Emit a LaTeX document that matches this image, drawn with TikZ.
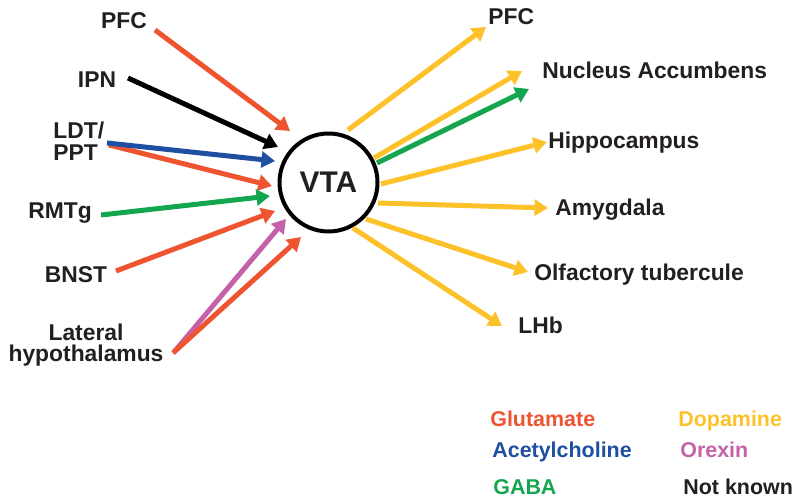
\documentclass[tikz,border=0pt]{standalone}
\usepackage{fontspec}
\setmainfont{Liberation Sans}
\usepackage{xcolor}
\usetikzlibrary{arrows.meta, positioning}

\definecolor{ink}{HTML}{231F20}
\definecolor{glu}{HTML}{EE5430}
\definecolor{dopa}{HTML}{FDC22A}
\definecolor{ach}{HTML}{1E4FA0}
\definecolor{gaba}{HTML}{13A64F}
\definecolor{orx}{HTML}{C461A9}

\begin{document}
\begin{tikzpicture}[x=0.02cm, y=-0.02cm,
    lbl/.style={font=\fontsize{13}{15}\selectfont\bfseries, text=ink, inner sep=0pt},
    leg/.style={font=\fontsize{12.2}{14}\selectfont\bfseries, inner sep=0pt, anchor=base west},
    proj/.style={line width=0.1cm, -{Triangle[length=0.27cm, width=0.32cm]}}]
    \useasboundingbox (0,0) rectangle (800,502);

    % VTA
    \node[draw=black, circle, line width=0.08cm, minimum size=1.96cm, inner sep=0pt,
          font=\fontsize{17}{19}\selectfont\bfseries, text=ink] (vta) at (328.5,182.5) {VTA};

    % Inputs
    \node[lbl, anchor=base] (inPFC) at (124,29) {PFC};
    \node[lbl, anchor=base] (inIPN) at (97,88) {IPN};
    \node[lbl, anchor=base west, align=left, font=\fontsize{13}{12.9}\selectfont\bfseries] (inLDT) at (53,161) {LDT/\\PPT};
    \node[lbl, anchor=base] (inRMTg) at (60,219) {RMTg};
    \node[lbl, anchor=base] (inBNST) at (76,283) {BNST};
    \node[lbl, anchor=base, align=center, font=\fontsize{13}{12.2}\selectfont\bfseries] (inLH) at (86,362) {Lateral\\hypothalamus};

    % Outputs
    \node[lbl, anchor=base west] (outPFC) at (488,25) {PFC};
    \node[lbl, anchor=base west] (outNAc) at (542,79) {Nucleus Accumbens};
    \node[lbl, anchor=base west] (outHip) at (548,149) {Hippocampus};
    \node[lbl, anchor=base west] (outAmy) at (555,216) {Amygdala};
    \node[lbl, anchor=base west] (outOT) at (534,281) {Olfactory tubercule};
    \node[lbl, anchor=base west] (outLHb) at (518,334) {LHb};

    % Arrow ends
    \coordinate (sPFC) at (155,30);   \coordinate (tPFC) at (290,131);
    \coordinate (sIPN) at (128,78);   \coordinate (tIPN) at (278,147);
    \coordinate (sLDTa) at (107,143); \coordinate (tLDTa) at (275,161);
    \coordinate (sLDTb) at (109,145); \coordinate (tLDTb) at (272,186);
    \coordinate (sRMTg) at (101,215); \coordinate (tRMTg) at (270,196);
    \coordinate (sBNST) at (116,271); \coordinate (tBNST) at (275,211);
    \coordinate (sLHa) at (174,352);  \coordinate (tLHa) at (286,219);
    \coordinate (sLHb) at (173,353);  \coordinate (tLHb) at (301,237);

    \coordinate (oPFC) at (348,130);  \coordinate (ePFC) at (486,27);
    \coordinate (oNAa) at (374,158);  \coordinate (eNAa) at (522,71);
    \coordinate (oNAb) at (377,163);  \coordinate (eNAb) at (529,89);
    \coordinate (oHip) at (381,184);  \coordinate (eHip) at (547,142);
    \coordinate (oAmy) at (378,203);  \coordinate (eAmy) at (548,208);
    \coordinate (oOT) at (366,219);   \coordinate (eOT) at (528,272);
    \coordinate (oLHb) at (353,228);  \coordinate (eLHb) at (502,326);

    % Afferents
    \draw[proj, glu] (sPFC) -- (tPFC);
    \draw[proj, black] (sIPN) -- (tIPN);
    \draw[proj, glu] (sLDTb) -- (tLDTb);
    \draw[proj, ach] (sLDTa) -- (tLDTa);
    \draw[proj, gaba] (sRMTg) -- (tRMTg);
    \draw[proj, glu] (sBNST) -- (tBNST);
    \draw[proj, orx] (sLHa) -- (tLHa);
    \draw[proj, glu] (sLHb) -- (tLHb);

    % Efferents
    \draw[proj, dopa] (oPFC) -- (ePFC);
    \draw[proj, dopa] (oNAa) -- (eNAa);
    \draw[proj, gaba] (oNAb) -- (eNAb);
    \draw[proj, dopa] (oHip) -- (eHip);
    \draw[proj, dopa] (oAmy) -- (eAmy);
    \draw[proj, dopa] (oOT) -- (eOT);
    \draw[proj, dopa] (oLHb) -- (eLHb);

    % Legend
    \node[leg, text=glu] (kGlu) at (490,427) {Glutamate};
    \node[leg, text=ach] (kACh) at (492,458) {Acetylcholine};
    \node[leg, text=gaba] (kGABA) at (493,494) {GABA};
    \node[leg, text=dopa] (kDA) at (678,427) {Dopamine};
    \node[leg, text=orx] (kOrx) at (680,458) {Orexin};
    \node[leg, text=ink] (kNK) at (683,494) {Not known};
\end{tikzpicture}
\end{document}
